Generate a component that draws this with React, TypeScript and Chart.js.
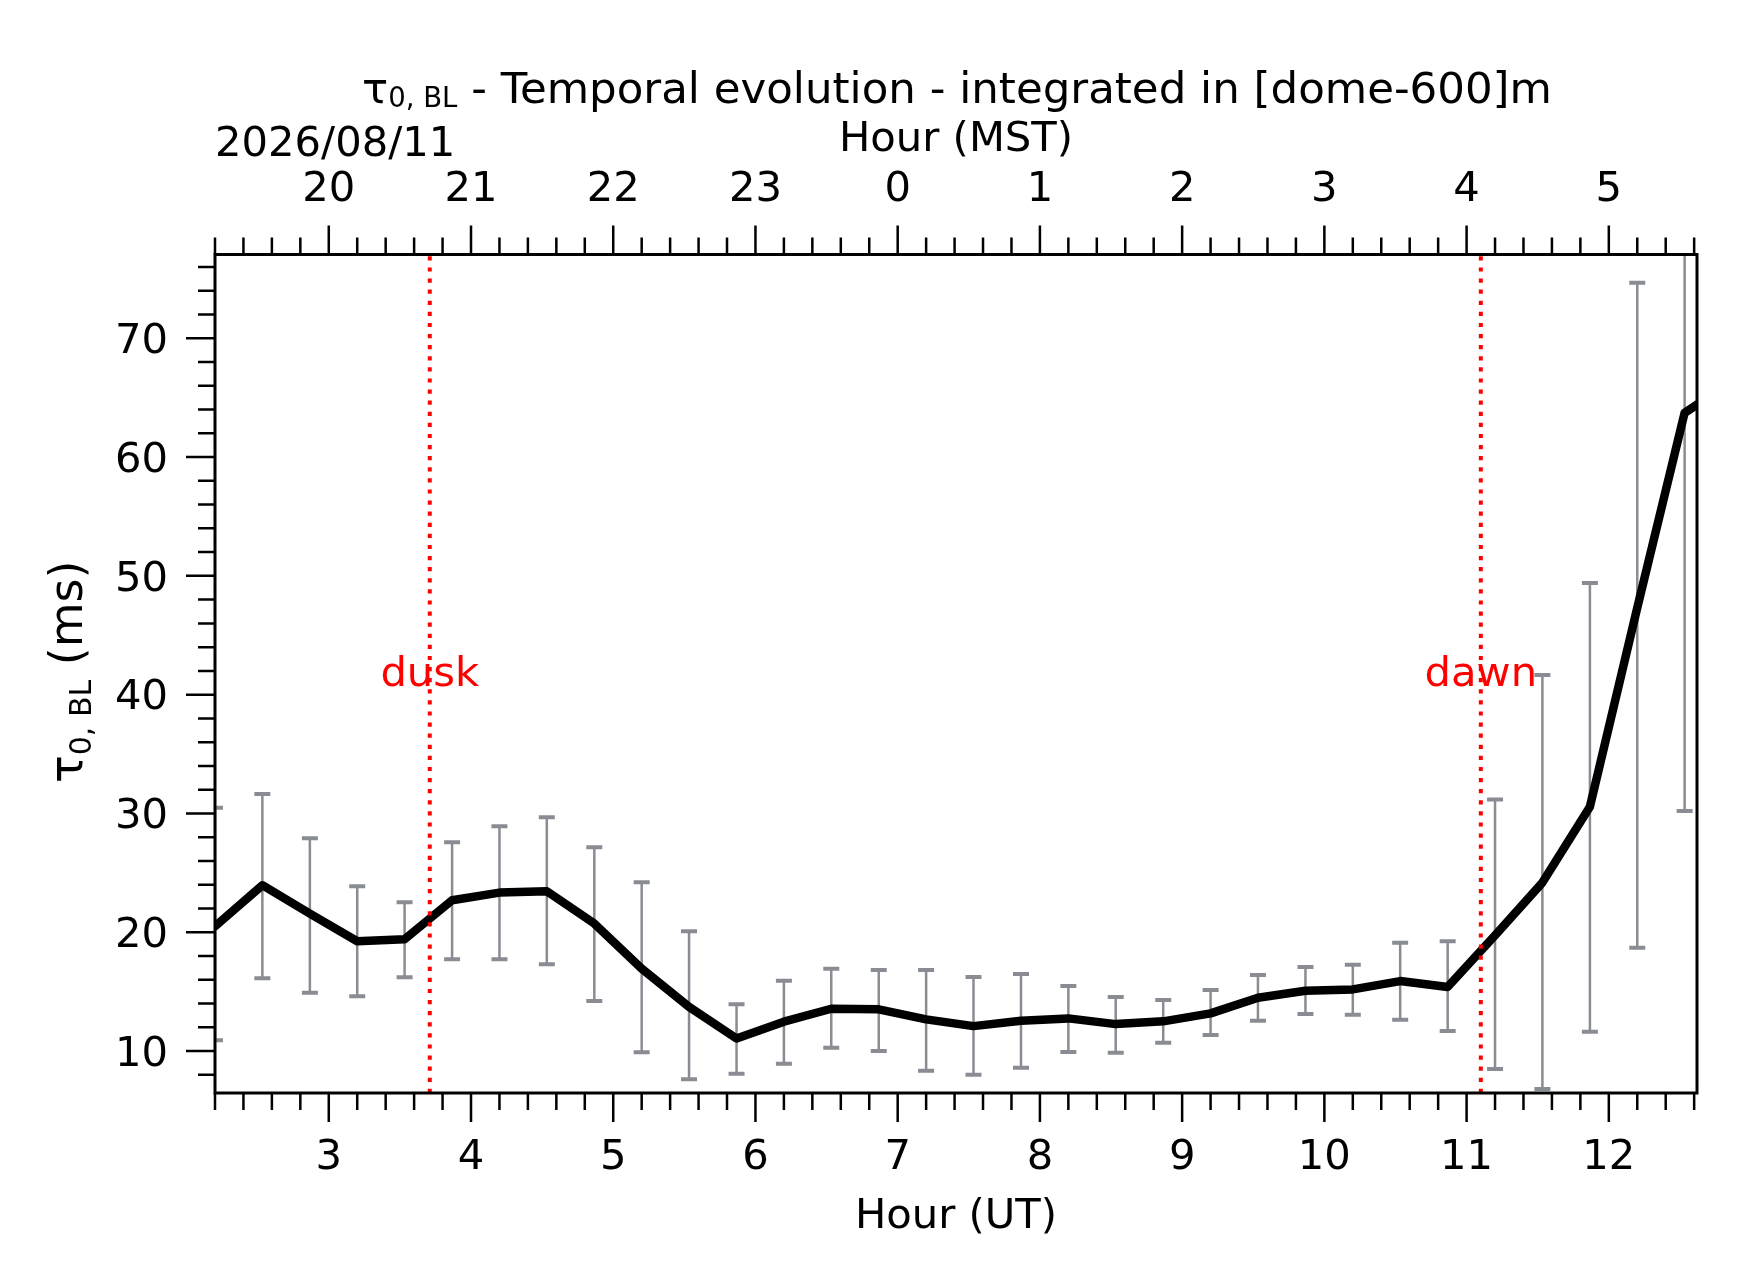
import React, { useEffect, useRef } from "react";
import { Chart, registerables } from "chart.js";

Chart.register(...registerables);

const FONT = '"DejaVu Sans", sans-serif';

// ---- data ----
const hoursUT = [
  2.2, 2.533, 2.867, 3.2, 3.533, 3.867, 4.2, 4.533, 4.867, 5.2, 5.533,
  5.867, 6.2, 6.533, 6.867, 7.2, 7.533, 7.867, 8.2, 8.533, 8.867, 9.2,
  9.533, 9.867, 10.2, 10.533, 10.867, 11.2, 11.533, 11.867, 12.2, 12.533,
  12.867,
];
const tau = [
  20.5, 23.96, 21.57, 19.24, 19.41, 22.69, 23.34, 23.45, 20.73, 16.94, 13.72,
  11.06, 12.47, 13.56, 13.51, 12.67, 12.1, 12.55, 12.75, 12.27, 12.5, 13.17,
  14.49, 15.08, 15.19, 15.89, 15.4, 19.74, 24.18, 30.56, 47.32, 63.72,
  66.4,
];
const tauUpper = [
  30.48, 31.64, 27.91, 23.87, 22.52, 27.57, 28.92, 29.68, 27.15, 24.21, 20.08,
  13.95, 15.92, 16.93, 16.82, 16.82, 16.23, 16.48, 15.47, 14.55, 14.29, 15.13,
  16.4, 17.07, 17.27, 19.12, 19.25, 31.17, 41.66, 49.4, 74.68, 97.2,
  null,
];
const tauLower = [
  10.9, 16.13, 14.9, 14.61, 16.21, 17.73, 17.73, 17.31, 14.22, 9.9, 7.63,
  8.08, 8.93, 10.28, 10.0, 8.34, 8.0, 8.6, 9.92, 9.86, 10.7, 11.35,
  12.55, 13.11, 13.06, 12.64, 11.68, 8.49, 6.8, 11.62, 18.7, 30.2,
  null,
];
const utTicks = [3, 4, 5, 6, 7, 8, 9, 10, 11, 12];
const mstTickLabels = ["20", "21", "22", "23", "0", "1", "2", "3", "4", "5"];
const yTicks = [10, 20, 30, 40, 50, 60, 70];
const eventNames = ["dusk", "dawn"];
const eventHoursUT = [3.71, 11.1];
const EVENT_LABEL_Y = 40.7;
const DATE_LABEL = "2026/08/11";

const X_MIN = 2.2;
const X_MAX = 12.62;
const Y_MIN = 6.47;
const Y_MAX = 77.05;
const X_MINOR_STEP = 0.2;
const Y_MINOR_STEP = 2;

const ERR_COLOR = "rgb(138,140,148)";
const TICK_FONT = 41.7;

type Part = { t: string; size: number; dy?: number };

function richWidth(ctx: CanvasRenderingContext2D, parts: Part[]) {
  let w = 0;
  for (const p of parts) {
    ctx.font = `${p.size}px ${FONT}`;
    w += ctx.measureText(p.t).width;
  }
  return w;
}

function drawRich(
  ctx: CanvasRenderingContext2D,
  parts: Part[],
  x: number,
  y: number,
  align: "left" | "center"
) {
  const w = richWidth(ctx, parts);
  let cx = align === "center" ? x - w / 2 : x;
  ctx.textAlign = "left";
  ctx.textBaseline = "alphabetic";
  for (const p of parts) {
    ctx.font = `${p.size}px ${FONT}`;
    ctx.fillText(p.t, cx, y + (p.dy || 0));
    cx += ctx.measureText(p.t).width;
  }
}

const errorBarPlugin = {
  id: "errorBars",
  beforeDatasetsDraw(chart: any) {
    const { ctx, chartArea: a, scales } = chart;
    const xs = scales.x;
    const ys = scales.y;
    ctx.save();
    ctx.beginPath();
    ctx.rect(a.left, a.top, a.right - a.left, a.bottom - a.top);
    ctx.clip();
    ctx.strokeStyle = ERR_COLOR;
    ctx.lineCap = "butt";
    hoursUT.forEach((h, i) => {
      const lo = tauLower[i];
      const hi = tauUpper[i];
      if (lo == null || hi == null) return;
      const px = xs.getPixelForValue(h);
      const pLo = ys.getPixelForValue(lo);
      const pHi = ys.getPixelForValue(hi);
      ctx.lineWidth = 2.5;
      ctx.beginPath();
      ctx.moveTo(px, pLo);
      ctx.lineTo(px, pHi);
      ctx.stroke();
      ctx.lineWidth = 4;
      ctx.beginPath();
      ctx.moveTo(px - 8, pLo);
      ctx.lineTo(px + 8, pLo);
      ctx.moveTo(px - 8, pHi);
      ctx.lineTo(px + 8, pHi);
      ctx.stroke();
    });
    ctx.restore();
  },
};

const decorPlugin = {
  id: "decor",
  afterDraw(chart: any) {
    const { ctx, chartArea: a, scales } = chart;
    const xs = scales.x;
    const ys = scales.y;
    const cxPlot = (a.left + a.right) / 2;
    const cyPlot = (a.top + a.bottom) / 2;
    ctx.save();

    // tick marks (major + minor), outward
    ctx.strokeStyle = "#000";
    ctx.lineWidth = 2.5;
    ctx.lineCap = "butt";
    ctx.beginPath();
    const nx = Math.round((X_MAX - X_MIN) / X_MINOR_STEP) + 2;
    for (let k = 0; k < nx; k++) {
      const v = Math.ceil(X_MIN / X_MINOR_STEP - 1e-6) * X_MINOR_STEP + k * X_MINOR_STEP;
      if (v > X_MAX + 1e-6) break;
      const major = Math.abs(v - Math.round(v)) < 1e-6;
      const len = major ? 29 : 17;
      const px = xs.getPixelForValue(v);
      ctx.moveTo(px, a.bottom);
      ctx.lineTo(px, a.bottom + len);
      ctx.moveTo(px, a.top);
      ctx.lineTo(px, a.top - len);
    }
    const ny = Math.round((Y_MAX - Y_MIN) / Y_MINOR_STEP) + 2;
    for (let k = 0; k < ny; k++) {
      const v = Math.ceil(Y_MIN / Y_MINOR_STEP) * Y_MINOR_STEP + k * Y_MINOR_STEP;
      if (v > Y_MAX) break;
      const major = v % 10 === 0;
      const len = major ? 29 : 17;
      const py = ys.getPixelForValue(v);
      ctx.moveTo(a.left, py);
      ctx.lineTo(a.left - len, py);
    }
    ctx.stroke();

    // plot frame
    ctx.lineWidth = 3;
    ctx.strokeRect(a.left, a.top, a.right - a.left, a.bottom - a.top);

    // event labels
    ctx.fillStyle = "#ff0000";
    ctx.font = `${TICK_FONT}px ${FONT}`;
    ctx.textAlign = "center";
    ctx.textBaseline = "alphabetic";
    eventNames.forEach((n, i) => {
      ctx.fillText(n, xs.getPixelForValue(eventHoursUT[i]), ys.getPixelForValue(EVENT_LABEL_Y));
    });

    // texts
    ctx.fillStyle = "#000";
    drawRich(
      ctx,
      [
        { t: "τ", size: 43.5 },
        { t: "0, BL", size: 27.5, dy: 4.5 },
        { t: " - Temporal evolution - integrated in [dome-600]m", size: 43.5 },
      ],
      cxPlot + 1,
      102.7,
      "center"
    );
    drawRich(ctx, [{ t: "Hour (MST)", size: TICK_FONT }], cxPlot, 150.7, "center");
    drawRich(ctx, [{ t: DATE_LABEL, size: TICK_FONT }], a.left, 156, "left");
    drawRich(ctx, [{ t: "Hour (UT)", size: TICK_FONT }], cxPlot, 1228, "center");

    ctx.save();
    ctx.translate(82, cyPlot - 2);
    ctx.rotate(-Math.PI / 2);
    drawRich(
      ctx,
      [
        { t: "τ", size: 46 },
        { t: "0, BL", size: 30, dy: 8.5 },
        { t: " (ms)", size: 46 },
      ],
      0,
      0,
      "center"
    );
    ctx.restore();

    ctx.restore();
  },
};

export default function App() {
  const ref = useRef<HTMLCanvasElement | null>(null);

  useEffect(() => {
    document.body.style.margin = "0";
    const canvas = ref.current;
    if (!canvas) return;

    const tickFont = { family: FONT, size: TICK_FONT };

    const eventDatasets = eventHoursUT.map((h, i) => ({
      label: eventNames[i],
      data: [
        { x: h, y: Y_MIN },
        { x: h, y: Y_MAX },
      ],
      borderColor: "#ff0000",
      borderWidth: 4,
      borderDash: [4.2, 6.9],
      borderCapStyle: "butt" as const,
      pointRadius: 0,
      fill: false,
      clip: 0,
    }));

    const chart = new Chart(canvas, {
      type: "line",
      data: {
        datasets: [
          ...eventDatasets,
          {
            label: "tau",
            data: hoursUT.map((h, i) => ({ x: h, y: tau[i] })),
            borderColor: "#000",
            borderWidth: 8.5,
            borderJoinStyle: "round",
            borderCapStyle: "round",
            pointRadius: 0,
            tension: 0,
            fill: false,
            clip: 0,
          },
        ],
      } as any,
      options: {
        animation: false,
        responsive: false,
        devicePixelRatio: 1,
        layout: { padding: { left: 0, right: 45, top: 0, bottom: 0 } },
        plugins: {
          legend: { display: false },
          tooltip: { enabled: false },
          title: { display: false },
        },
        events: [],
        scales: {
          x: {
            type: "linear",
            position: "bottom",
            min: X_MIN,
            max: X_MAX,
            grid: { display: false, drawTicks: false },
            border: { display: false },
            ticks: {
              font: tickFont,
              color: "#000",
              padding: 40.5,
              maxRotation: 0,
              autoSkip: false,
            },
            afterBuildTicks: (s: any) => {
              s.ticks = utTicks.map((v) => ({ value: v }));
            },
            afterFit: (s: any) => {
              s.height = 189;
            },
          },
          x2: {
            type: "linear",
            position: "top",
            min: X_MIN,
            max: X_MAX,
            grid: { display: false, drawTicks: false },
            border: { display: false },
            ticks: {
              font: tickFont,
              color: "#000",
              padding: 39.8,
              maxRotation: 0,
              autoSkip: false,
              callback: (v: any) => {
                const i = utTicks.indexOf(Number(v));
                return i >= 0 ? mstTickLabels[i] : "";
              },
            },
            afterBuildTicks: (s: any) => {
              s.ticks = utTicks.map((v) => ({ value: v }));
            },
            afterFit: (s: any) => {
              s.height = 254.5;
            },
          },
          y: {
            type: "linear",
            position: "left",
            min: Y_MIN,
            max: Y_MAX,
            grid: { display: false, drawTicks: false },
            border: { display: false },
            ticks: {
              font: tickFont,
              color: "#000",
              padding: 47,
              labelOffset: 4,
              autoSkip: false,
            },
            afterBuildTicks: (s: any) => {
              s.ticks = yTicks.map((v) => ({ value: v }));
            },
            afterFit: (s: any) => {
              s.width = 215;
            },
          },
        },
      } as any,
      plugins: [errorBarPlugin, decorPlugin],
    });

    return () => chart.destroy();
  }, []);

  return (
    <div style={{ width: 1742, height: 1282, background: "#fff" }}>
      <canvas
        ref={ref}
        width={1742}
        height={1282}
        style={{ display: "block", width: 1742, height: 1282 }}
      />
    </div>
  );
}
